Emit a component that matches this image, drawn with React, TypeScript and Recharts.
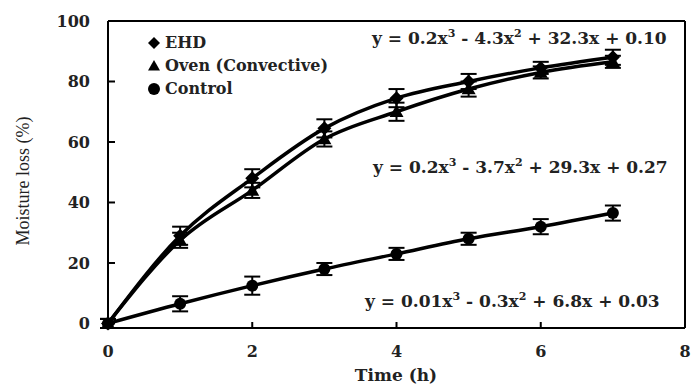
import React from "react";
import { ErrorBar, Legend, Line, LineChart, ReferenceLine, XAxis, YAxis } from "recharts";

const times = [0, 1, 2, 3, 4, 5, 6, 7];
const ehd = [0, 29, 48, 64.5, 74.5, 80, 84.5, 88];
const ehdErr = [1.5, 3, 3, 3, 3, 2.5, 2, 2.5];
const oven = [0, 27.5, 44, 61, 70, 77.5, 83, 86.5];
const ovenErr = [1.5, 2.5, 2.5, 2.5, 3, 2.5, 2, 2];
const control = [0, 6.5, 12.5, 18, 23, 28, 32, 36.5];
const controlErr = [1.5, 2.5, 3, 2, 2, 2, 2.5, 2.5];

const xTicks = [0, 2, 4, 6, 8];
const yTicks = [0, 20, 40, 60, 80, 100];

const data = times.map((t, i) => ({
  t,
  ehd: ehd[i],
  ehdErr: ehdErr[i],
  oven: oven[i],
  ovenErr: ovenErr[i],
  control: control[i],
  controlErr: controlErr[i],
}));

const FONT = "'DejaVu Serif', serif";

function Diamond({ cx, cy, s = 7 }: { cx: number; cy: number; s?: number }) {
  return <path d={`M${cx},${cy - s}L${cx + s},${cy}L${cx},${cy + s}L${cx - s},${cy}Z`} fill="#000" />;
}
function Triangle({ cx, cy, s = 7 }: { cx: number; cy: number; s?: number }) {
  return <path d={`M${cx},${cy - s}L${cx + s},${cy + s * 0.75}L${cx - s},${cy + s * 0.75}Z`} fill="#000" />;
}
function Circle({ cx, cy, r = 6 }: { cx: number; cy: number; r?: number }) {
  return <circle cx={cx} cy={cy} r={r} fill="#000" />;
}

const XTick = (props: any) => {
  const { x, y, payload } = props;
  const axisY = y - 18;
  return (
    <g>
      <line x1={x} x2={x} y1={axisY} y2={axisY - 6} stroke="#000" strokeWidth={2} />
      <text x={x} y={y} dy="0.71em" textAnchor="middle" fontFamily={FONT} fontWeight="bold" fontSize={16} fill="#222">
        {payload.value}
      </text>
    </g>
  );
};

const YTick = (props: any) => {
  const { x, y, payload } = props;
  const axisX = x + 18;
  return (
    <g>
      <line x1={axisX} x2={axisX + 7} y1={y} y2={y} stroke="#000" strokeWidth={2} />
      <text x={x} y={y} dy="0.355em" textAnchor="end" fontFamily={FONT} fontWeight="bold" fontSize={16} fill="#222">
        {payload.value}
      </text>
    </g>
  );
};

const legendItems = [
  { key: "ehd", label: "EHD" },
  { key: "oven", label: "Oven (Convective)" },
  { key: "control", label: "Control" },
];

const LegendContent = () => (
  <div style={{ fontFamily: FONT, fontWeight: "bold", fontSize: 16, color: "#222" }}>
    {legendItems.map((it) => (
      <div key={it.key} style={{ display: "flex", alignItems: "center", height: 23 }}>
        <svg width={16} height={16} style={{ marginRight: 3 }}>
          {it.key === "ehd" && <Diamond cx={8} cy={8} s={6} />}
          {it.key === "oven" && <Triangle cx={8} cy={8} s={6} />}
          {it.key === "control" && <Circle cx={8} cy={8} r={6} />}
        </svg>
        <span>{it.label}</span>
      </div>
    ))}
  </div>
);

const eqStyle: React.CSSProperties = {
  position: "absolute",
  fontFamily: FONT,
  fontWeight: "bold",
  fontSize: 17,
  color: "#222",
  whiteSpace: "nowrap",
  lineHeight: 1,
};
const supStyle: React.CSSProperties = { fontSize: 11, verticalAlign: "super", lineHeight: 0 };

export default function App() {
  return (
    <div style={{ position: "absolute", left: 0, top: 0, width: 691, height: 385, background: "#fff" }}>
      <LineChart width={691} height={385} data={data} margin={{ top: 21, right: 6, left: 48, bottom: 27 }}>
        <XAxis
          dataKey="t"
          type="number"
          domain={[0, 8]}
          ticks={xTicks}
          tickLine={false}
          tickSize={0}
          tickMargin={18}
          tick={<XTick />}
          axisLine={{ stroke: "#000", strokeWidth: 2 }}
          height={30}
          interval={0}
        />
        <YAxis
          type="number"
          domain={[0, 100]}
          ticks={yTicks}
          tickLine={false}
          tickSize={0}
          tickMargin={18}
          tick={<YTick />}
          axisLine={{ stroke: "#000", strokeWidth: 2 }}
          width={60}
          interval={0}
        />
        <ReferenceLine y={100} stroke="#000" strokeWidth={2} />
        <ReferenceLine x={8} stroke="#000" strokeWidth={2} />
        <Legend
          layout="vertical"
          verticalAlign="middle"
          align="center"
          content={<LegendContent />}
          wrapperStyle={{ left: 146, top: 31, width: 220 }}
        />
        <Line
          name="EHD"
          dataKey="ehd"
          type="monotone"
          stroke="#000"
          strokeWidth={3.5}
          isAnimationActive={false}
          dot={(p: any) => <Diamond key={p.index} cx={p.cx} cy={p.cy} />}
        >
          <ErrorBar dataKey="ehdErr" direction="y" width={8} stroke="#000" strokeWidth={2} />
        </Line>
        <Line
          name="Oven (Convective)"
          dataKey="oven"
          type="monotone"
          stroke="#000"
          strokeWidth={3.5}
          isAnimationActive={false}
          dot={(p: any) => <Triangle key={p.index} cx={p.cx} cy={p.cy} />}
        >
          <ErrorBar dataKey="ovenErr" direction="y" width={8} stroke="#000" strokeWidth={2} />
        </Line>
        <Line
          name="Control"
          dataKey="control"
          type="monotone"
          stroke="#000"
          strokeWidth={3.5}
          isAnimationActive={false}
          dot={(p: any) => <Circle key={p.index} cx={p.cx} cy={p.cy} />}
        >
          <ErrorBar dataKey="controlErr" direction="y" width={8} stroke="#000" strokeWidth={2} />
        </Line>
      </LineChart>

      <div style={{ ...eqStyle, left: 372, top: 30 }}>
        y = 0.2x<span style={supStyle}>3</span> - 4.3x<span style={supStyle}>2</span> + 32.3x + 0.10
      </div>
      <div style={{ ...eqStyle, left: 373, top: 159 }}>
        y = 0.2x<span style={supStyle}>3</span> - 3.7x<span style={supStyle}>2</span> + 29.3x + 0.27
      </div>
      <div style={{ ...eqStyle, left: 365, top: 293 }}>
        y = 0.01x<span style={supStyle}>3</span> - 0.3x<span style={supStyle}>2</span> + 6.8x + 0.03
      </div>

      <div
        style={{
          position: "absolute",
          left: 23,
          top: 181,
          transform: "translate(-50%, -50%) rotate(-90deg)",
          fontFamily: "'Liberation Serif', serif",
          fontSize: 18,
          lineHeight: 1,
          color: "#222",
          whiteSpace: "nowrap",
        }}
      >
        Moisture loss (%)
      </div>
      <div
        style={{
          position: "absolute",
          left: 396,
          top: 375,
          transform: "translate(-50%, -50%)",
          fontFamily: FONT,
          fontWeight: "bold",
          fontSize: 17,
          lineHeight: 1,
          color: "#222",
          whiteSpace: "nowrap",
        }}
      >
        Time (h)
      </div>
    </div>
  );
}
